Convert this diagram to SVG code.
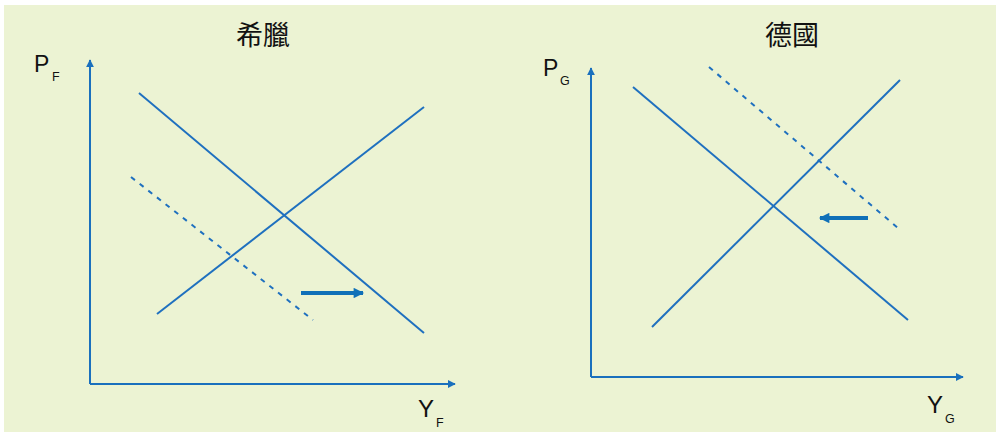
<svg xmlns="http://www.w3.org/2000/svg" width="996" height="433" viewBox="0 0 996 433">
<defs>
<style>
.ln{stroke:#1f70bf;stroke-width:2;fill:none}
.ax{stroke:#1a70bd;stroke-width:2;fill:none}
.ds{stroke:#1f70bf;stroke-width:2;fill:none;stroke-dasharray:5 6}
.sh{stroke:#1070b8;stroke-width:4;fill:none}
.lb{font-family:"Liberation Sans",Arial,sans-serif;fill:#111}
.tt{font-family:"Noto Sans CJK TC","Noto Sans CJK SC",sans-serif;font-size:27px;fill:#111}
</style>
<marker id="ah" viewBox="0 0 10 10" refX="9" refY="5" markerWidth="8" markerHeight="8" markerUnits="userSpaceOnUse" orient="auto">
<path d="M0,0 L10,5 L0,10 Z" fill="#1a70bd"/>
</marker>
<marker id="bh" viewBox="0 0 10 10" refX="9" refY="5" markerWidth="3" markerHeight="2.6" orient="auto">
<path d="M0,0 L10,5 L0,10 Z" fill="#1070b8"/>
</marker>
</defs>
<rect x="4" y="5" width="992" height="427" fill="#ecf3d3"/>
<g id="left-panel">
<text class="tt" x="236" y="45">希臘</text>
<text class="lb" x="34" y="72" font-size="23">P</text>
<text class="lb" x="52" y="81" font-size="12.5">F</text>
<text class="lb" x="418" y="417" font-size="24">Y</text>
<text class="lb" x="436" y="427" font-size="12.5">F</text>
</g>
<g id="right-panel">
<text class="tt" x="765" y="45">德國</text>
<text class="lb" x="543" y="76" font-size="23">P</text>
<text class="lb" x="560" y="85" font-size="12.5">G</text>
<text class="lb" x="927" y="413" font-size="24">Y</text>
<text class="lb" x="945" y="423" font-size="12.5">G</text>
</g>
<g id="connectors">
<polyline class="ax" points="90,384 90,60" marker-end="url(#ah)"/>
<polyline class="ax" points="90,384 455,384" marker-end="url(#ah)"/>
<line class="ln" x1="139" y1="93" x2="424" y2="333"/>
<line class="ln" x1="157" y1="314" x2="424" y2="107"/>
<line class="ds" x1="131" y1="177" x2="313" y2="320"/>
<line class="sh" x1="301" y1="293" x2="363" y2="293" marker-end="url(#bh)"/>
<polyline class="ax" points="591,377 591,68" marker-end="url(#ah)"/>
<polyline class="ax" points="591,377 963,377" marker-end="url(#ah)"/>
<line class="ln" x1="633" y1="87" x2="908" y2="320"/>
<line class="ln" x1="652" y1="327" x2="900" y2="80"/>
<line class="ds" x1="709" y1="67" x2="898" y2="228"/>
<line class="sh" x1="868" y1="218" x2="820" y2="218" marker-end="url(#bh)"/>
</g>
</svg>
